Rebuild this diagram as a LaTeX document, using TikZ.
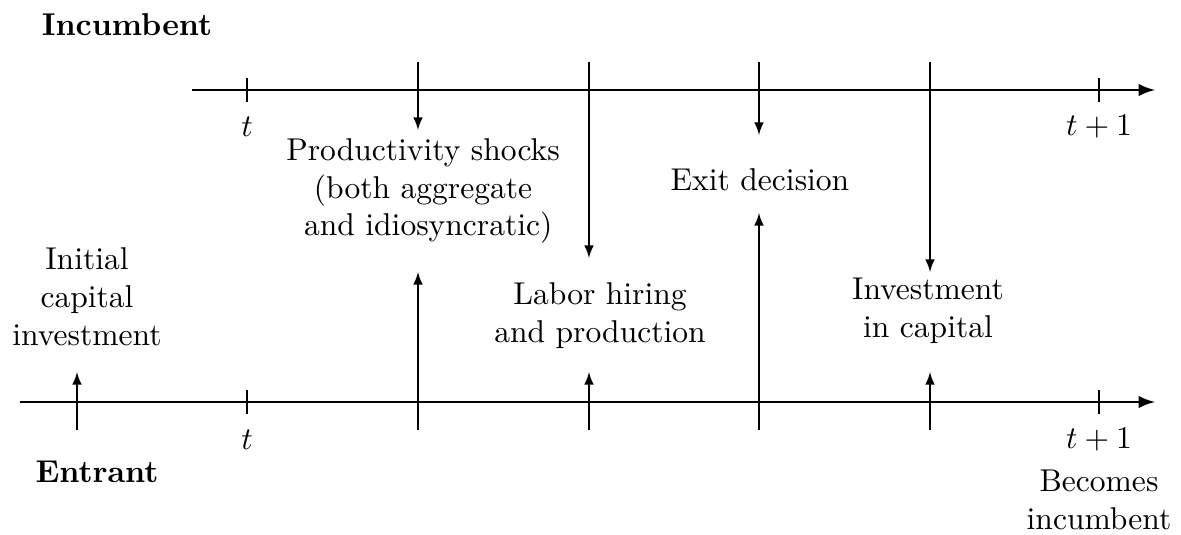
\documentclass[tikz,border=0pt]{standalone}
\usetikzlibrary{arrows}

\begin{document}
\begin{tikzpicture}[
  x=0.317pt, y=-0.317pt,
  axis/.style={draw, thick, -latex},
  tickmark/.style={draw, thick},
  event/.style={draw, -latex},
  eventtext/.style={align=center, inner sep=0pt},
  heading/.style={font=\bfseries, inner sep=0pt}
]
\useasboundingbox (0,0) rectangle (1181,535);

% time lines
\coordinate (inc start) at (192,90);
\coordinate (inc end) at (1155,90);
\coordinate (ent start) at (20,402);
\coordinate (ent end) at (1155,402);
\draw[axis] (inc start) -- (inc end);
\draw[axis] (ent start) -- (ent end);

% ticks
\foreach \tx/\lab in {247/t, 1099/t+1} {
  \draw[tickmark] (\tx,78) -- (\tx,102);
  \draw[tickmark] (\tx,390) -- (\tx,414);
  \node (inc \lab) at (\tx,127) {$\lab$};
  \node (ent \lab) at (\tx,440) {$\lab$};
}

\node[heading] (incumbent) at (127,25) {Incumbent};
\node[heading] (entrant) at (97,472) {Entrant};

% events
\node[eventtext] (shocks) at (423,191) {Productivity shocks\\(both aggregate\\ \ and idiosyncratic)};
\node[eventtext] (exit) at (760,180) {Exit decision};
\node[eventtext] (initial) at (87,297) {Initial\\capital\\investment};
\node[eventtext] (labor) at (600,316) {Labor hiring\\and production};
\node[eventtext] (invest) at (928,311) {Investment\\in capital};
\node[eventtext] (becomes) at (1099,500) {Becomes\\incumbent};

% incumbent arrows
\coordinate (a1) at (418,62);  \coordinate (a1e) at (418,130);
\coordinate (a2) at (589,62);  \coordinate (a2e) at (589,258);
\coordinate (a3) at (759,62);  \coordinate (a3e) at (759,135);
\coordinate (a4) at (930,62);  \coordinate (a4e) at (930,272);
\draw[event] (a1) -- (a1e);
\draw[event] (a2) -- (a2e);
\draw[event] (a3) -- (a3e);
\draw[event] (a4) -- (a4e);

% entrant arrows
\coordinate (b0) at (77,430);  \coordinate (b0e) at (77,372);
\coordinate (b1) at (418,430); \coordinate (b1e) at (418,272);
\coordinate (b2) at (589,430); \coordinate (b2e) at (589,372);
\coordinate (b3) at (759,430); \coordinate (b3e) at (759,213);
\coordinate (b4) at (930,430); \coordinate (b4e) at (930,372);
\draw[event] (b0) -- (b0e);
\draw[event] (b1) -- (b1e);
\draw[event] (b2) -- (b2e);
\draw[event] (b3) -- (b3e);
\draw[event] (b4) -- (b4e);
\end{tikzpicture}
\end{document}
